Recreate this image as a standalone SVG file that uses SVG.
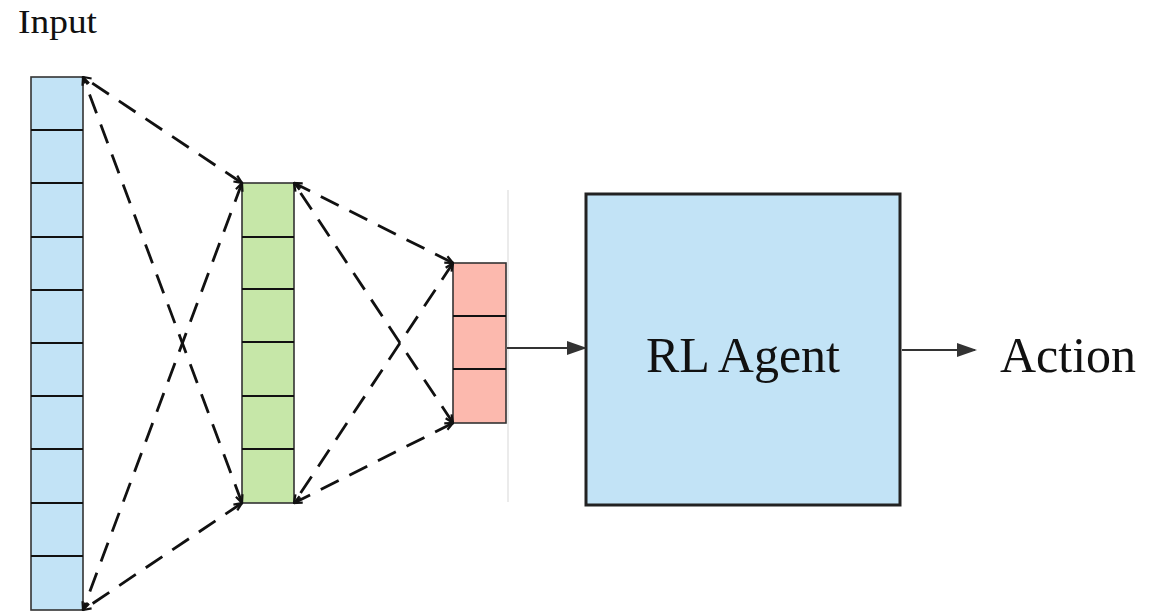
<svg xmlns="http://www.w3.org/2000/svg" width="1151" height="613" viewBox="0 0 1151 613">
<defs>
<style>
.lbl{font-family:"Liberation Serif","DejaVu Serif",serif;fill:#111}
.cellB{fill:#c2e3f6;stroke:#333;stroke-width:1.6}
.cellG{fill:#c6e7a8;stroke:#333;stroke-width:1.6}
.cellR{fill:#fcb9ae;stroke:#333;stroke-width:1.6}
.div{stroke:#111;stroke-width:2}
.dash{fill:none;stroke:#111;stroke-width:2.8;stroke-dasharray:20 12}
.solid{fill:none;stroke:#333;stroke-width:2.2}
</style>
<marker id="chev" viewBox="0 0 10 10" refX="9" refY="5" markerWidth="10" markerHeight="10" orient="auto-start-reverse" markerUnits="userSpaceOnUse">
<path d="M1,1.5 L9,5 L1,8.5" fill="none" stroke="#111" stroke-width="2.2"/>
</marker>
<marker id="arr" viewBox="0 0 10 10" refX="9" refY="5" markerWidth="20" markerHeight="14" orient="auto" markerUnits="userSpaceOnUse" preserveAspectRatio="none">
<path d="M0,0 L10,5 L0,10 Z" fill="#333"/>
</marker>
</defs>
<text class="lbl" x="18" y="33" font-size="33" textLength="79" lengthAdjust="spacingAndGlyphs">Input</text>
<g id="input-layer">
<rect class="cellB" x="31" y="77" width="52" height="533"/>
<g class="div">
<line x1="31" y1="130" x2="83" y2="130"/><line x1="31" y1="183" x2="83" y2="183"/>
<line x1="31" y1="237" x2="83" y2="237"/><line x1="31" y1="290" x2="83" y2="290"/>
<line x1="31" y1="343" x2="83" y2="343"/><line x1="31" y1="396" x2="83" y2="396"/>
<line x1="31" y1="449" x2="83" y2="449"/><line x1="31" y1="503" x2="83" y2="503"/>
<line x1="31" y1="556" x2="83" y2="556"/>
</g>
</g>
<g id="hidden-layer">
<rect class="cellG" x="242" y="183" width="52" height="320"/>
<g class="div">
<line x1="242" y1="237" x2="294" y2="237"/><line x1="242" y1="289" x2="294" y2="289"/>
<line x1="242" y1="342" x2="294" y2="342"/><line x1="242" y1="396" x2="294" y2="396"/>
<line x1="242" y1="449" x2="294" y2="449"/>
</g>
</g>
<g id="output-layer">
<rect class="cellR" x="453" y="263" width="53" height="160"/>
<g class="div">
<line x1="453" y1="316" x2="506" y2="316"/><line x1="453" y1="369" x2="506" y2="369"/>
</g>
</g>
<line x1="508" y1="190" x2="508" y2="502" stroke="#e4e4e4" stroke-width="1.5"/>
<g id="rl-agent">
<rect x="586" y="194" width="314" height="311" fill="#c2e3f6" stroke="#222" stroke-width="3"/>
<text class="lbl" x="743" y="372" font-size="50" text-anchor="middle">RL Agent</text>
</g>
<g id="action">
<text class="lbl" x="1000" y="372" font-size="50">Action</text>
</g>
<g id="connectors">
<line class="dash" x1="242" y1="183" x2="83" y2="77" marker-start="url(#chev)" marker-end="url(#chev)"/>
<line class="dash" x1="242" y1="503" x2="83" y2="77" marker-start="url(#chev)" marker-end="url(#chev)"/>
<line class="dash" x1="242" y1="183" x2="83" y2="610" marker-start="url(#chev)" marker-end="url(#chev)"/>
<line class="dash" x1="242" y1="503" x2="83" y2="610" marker-start="url(#chev)" marker-end="url(#chev)"/>
<line class="dash" x1="453" y1="263" x2="294" y2="183" marker-start="url(#chev)" marker-end="url(#chev)"/>
<line class="dash" x1="453" y1="423" x2="294" y2="183" marker-start="url(#chev)" marker-end="url(#chev)"/>
<line class="dash" x1="453" y1="263" x2="294" y2="503" marker-start="url(#chev)" marker-end="url(#chev)"/>
<line class="dash" x1="453" y1="423" x2="294" y2="503" marker-start="url(#chev)" marker-end="url(#chev)"/>
<line class="solid" x1="507" y1="348" x2="585" y2="348" marker-end="url(#arr)"/>
<line class="solid" x1="902" y1="350" x2="975" y2="350" marker-end="url(#arr)"/>
</g>
</svg>
